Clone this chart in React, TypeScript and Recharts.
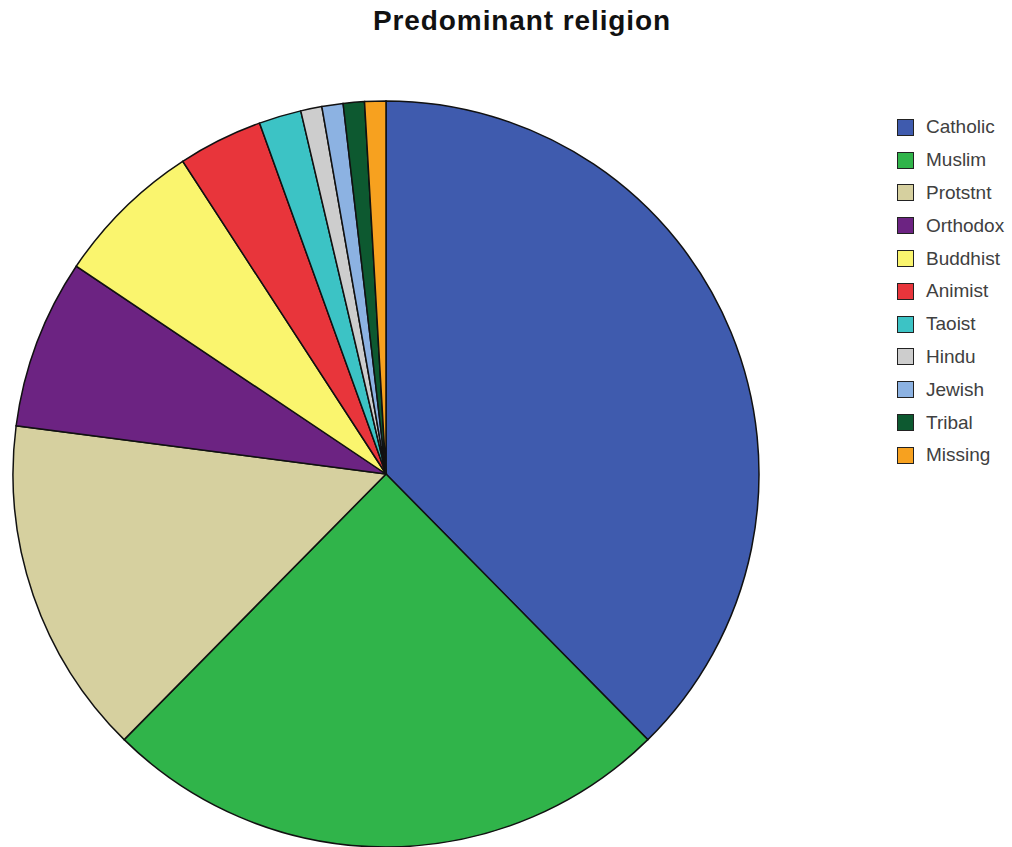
import React from 'react';
import { PieChart, Pie, Cell, Legend } from 'recharts';

// counts per predominant religion (109 countries)
const religions = ['Catholic', 'Muslim', 'Protstnt', 'Orthodox', 'Buddhist', 'Animist', 'Taoist', 'Hindu', 'Jewish', 'Tribal', 'Missing'];
const counts = [41, 27, 16, 8, 7, 4, 2, 1, 1, 1, 1];
const colors = ['#3F5BAE', '#30B44A', '#D6D09F', '#6C2382', '#FAF56E', '#E8353B', '#3CC3C5', '#CDCDCD', '#8CB2E2', '#0D5930', '#F7A11F'];

const data = religions.map((name, i) => ({ name, value: counts[i] }));

const renderLegend = () => (
    <div style={{ position: 'absolute', left: 897, top: 111 }}>
        {religions.map((name, i) => (
            <div key={name} style={{ display: 'flex', alignItems: 'center', height: 32.8 }}>
                <span
                    style={{
                        width: 17,
                        height: 17,
                        background: colors[i],
                        border: '1.5px solid #222',
                        boxSizing: 'border-box',
                        display: 'inline-block',
                        marginRight: 12,
                    }}
                />
                <span style={{ fontFamily: '"Liberation Sans", Arial, sans-serif', fontSize: 19, color: '#404040' }}>{name}</span>
            </div>
        ))}
    </div>
);

const App: React.FC = () => {
    return (
        <div style={{ position: 'absolute', left: 0, top: 0, width: 1012, height: 847, background: '#fff' }}>
            <div
                style={{
                    position: 'absolute',
                    top: 5,
                    left: 0,
                    width: 1044,
                    textAlign: 'center',
                    fontFamily: '"Liberation Sans", Arial, sans-serif',
                    fontWeight: 'bold',
                    fontSize: 28,
                    letterSpacing: 0.9,
                    color: '#111',
                }}
            >
                Predominant religion
            </div>
            <PieChart width={1012} height={847} style={{ position: 'absolute', left: 0, top: 0 }}>
                <Pie
                    data={data}
                    dataKey="value"
                    nameKey="name"
                    cx={381}
                    cy={469}
                    outerRadius={373}
                    startAngle={90}
                    endAngle={-270}
                    stroke="#111"
                    strokeWidth={1.5}
                    isAnimationActive={false}
                >
                    {data.map((d, i) => (
                        <Cell key={`cell-${d.name}`} fill={colors[i]} />
                    ))}
                </Pie>
                <Legend content={renderLegend} wrapperStyle={{ position: 'absolute', left: 0, top: 0, width: 0, height: 0 }} />
            </PieChart>
        </div>
    );
};

export default App;
